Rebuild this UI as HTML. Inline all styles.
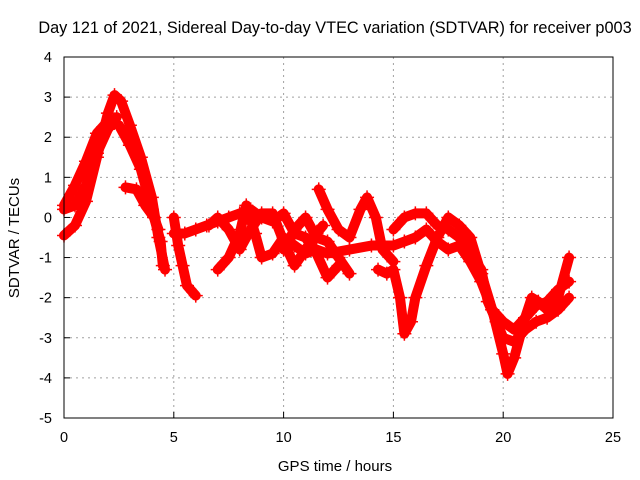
<!DOCTYPE html>
<html><head><meta charset="utf-8"><style>
body{margin:0;background:#fff}
svg{display:block;font-family:"Liberation Sans",sans-serif}
</style></head><body>
<svg id="chart" width="640" height="480">
<text x="335" y="33" text-anchor="middle" font-size="16.3">Day 121 of 2021, Sidereal Day-to-day VTEC variation (SDTVAR) for receiver p003</text>
<text x="335" y="471" text-anchor="middle" font-size="15">GPS time / hours</text>
<text transform="translate(19,238) rotate(-90)" text-anchor="middle" font-size="15">SDTVAR / TECUs</text>
<g id="grid"></g><g id="marks"></g>
<rect x="64" y="57" width="549" height="361" fill="none" stroke="#000" stroke-width="1"/>
</svg>
<script>
const xTicks=[0,5,10,15,20,25];
const yTicks=[4,3,2,1,0,-1,-2,-3,-4,-5];
const s1=[[0,-0.45],[0.5,-0.2],[1,0.4],[1.5,1.5],[2,2.6],[2.3,3.05],[2.6,2.9],[3,2.3],[3.5,1.5],[4,0.5],[4.3,-0.5],[4.6,-1.3]];
const s2=[[0,0.3],[0.5,0.8],[1,1.4],[1.5,2.1],[2,2.4],[2.5,2.3],[3,1.8],[3.5,1.2],[4,0.2],[4.4,-0.6],[4.5,-1.2]];
const s3=[[0,0.2],[0.5,0.3],[1,0.8],[1.5,1.6],[2,2.2],[2.4,2.5]];
const s4=[[2.8,0.75],[3.3,0.7],[3.7,0.3],[4.1,0.0],[4.3,-0.3]];
const s5=[[5,0.0],[5.2,-0.7],[5.4,-1.2],[5.6,-1.7],[6,-1.95]];
const s6=[[5,-0.4],[5.5,-0.4],[6,-0.3],[6.5,-0.2],[7,-0.1],[7.5,0],[8,0.1],[8.5,0.2],[9,0],[9.5,-0.1],[10,0.1],[10.5,-0.4],[11,-0.5],[11.5,-0.9],[12,-1.5],[12.5,-1.2]];
const s7=[[7,-1.3],[7.5,-1.0],[8,-0.4],[8.3,0.3],[8.7,-0.4],[9,-1.0],[9.5,-0.9],[10,-0.5],[10.5,-0.7],[11,-0.9],[11.5,-0.8],[12,-0.9],[13,-0.8],[14,-0.7],[15,-0.7],[15.5,-0.6],[16,-0.5],[16.5,-0.3],[17,-0.6],[17.5,-0.8],[18,-0.7],[18.5,-1.1],[19,-1.6],[19.5,-2.3],[20,-2.6],[20.5,-2.8],[21,-2.5],[21.5,-2.2],[22,-2.1],[22.5,-1.8],[23,-1.6]];
const s8=[[11.6,0.7],[12,0.2],[12.5,-0.3],[13,-0.5],[13.5,0.2],[13.8,0.5],[14.2,0],[14.5,-0.8],[15,-1.1]];
const s9=[[14.3,-1.3],[14.7,-1.4],[15,-1.3],[15.3,-2.0],[15.5,-2.9],[15.8,-2.6],[16,-2],[16.5,-1.2],[17,-0.5],[17.5,0],[18,-0.2],[18.5,-0.5],[19,-1.4],[19.5,-2.3],[20,-3.4],[20.2,-3.9],[20.5,-3.5],[21,-2.5],[21.3,-2.0],[21.6,-2.1],[22,-2.3],[22.5,-2.0],[23,-1.0]];
const s10=[[10,-0.8],[10.5,-0.3],[11,0],[11.5,-0.5],[12,-0.6],[12.5,-1.0],[13,-1.4]];
const s11=[[15,-0.3],[15.5,0],[16,0.1],[16.5,0.1],[17,-0.2],[17.5,-0.3],[18,-0.5],[18.5,-0.9],[19,-1.3],[19.3,-2.1],[19.7,-2.6],[20,-3.0],[20.5,-3.1],[21,-2.8],[21.5,-2.6],[22,-2.5],[22.5,-2.3],[23,-2.0]];
const s12=[[6.6,-0.2],[7,0],[7.5,-0.3],[8,-0.8],[8.5,-0.3],[9,0.1],[9.5,0.1],[10,-0.6],[10.5,-1.2],[11,-0.8],[11.5,-0.4],[11.8,-0.2]];
const seriesList=[s1,s2,s3,s4,s5,s6,s7,s8,s9,s10,s11,s12];
const NS="http://www.w3.org/2000/svg";
function xs(h){return 64+h*(549/25);}
function ys(v){return 57+(4-v)*(361/9);}
const grid=document.getElementById('grid');
xTicks.forEach(t=>{
  const x=xs(t);
  if(t>0&&t<25){const l=document.createElementNS(NS,'line');
  
  
  l.setAttribute('x1',x);l.setAttribute('x2',x);l.setAttribute('y1',57);l.setAttribute('y2',418);
  l.setAttribute('stroke','#a0a0a0');l.setAttribute('stroke-dasharray','2,4');grid.appendChild(l);}
  const tk=document.createElementNS(NS,'line');
  
  
  tk.setAttribute('x1',x);tk.setAttribute('x2',x);tk.setAttribute('y1',418);tk.setAttribute('y2',412);tk.setAttribute('stroke','#000');grid.appendChild(tk);
  const tx=document.createElementNS(NS,'text');
  
  
  tx.setAttribute('x',x);tx.setAttribute('y',442);tx.setAttribute('text-anchor','middle');tx.setAttribute('font-size','14.5');tx.textContent=t;grid.appendChild(tx);
});
yTicks.forEach(t=>{
  const y=ys(t);
  if(t<4&&t>-5){const l=document.createElementNS(NS,'line');
  
  
  l.setAttribute('x1',64);l.setAttribute('x2',613);l.setAttribute('y1',y);l.setAttribute('y2',y);
  l.setAttribute('stroke','#a0a0a0');l.setAttribute('stroke-dasharray','2,4');grid.appendChild(l);}
  const tk=document.createElementNS(NS,'line');
  
  
  tk.setAttribute('x1',64);tk.setAttribute('x2',70);tk.setAttribute('y1',y);tk.setAttribute('y2',y);tk.setAttribute('stroke','#000');grid.appendChild(tk);
  const tx=document.createElementNS(NS,'text');
  
  
  tx.setAttribute('x',52);tx.setAttribute('y',y+5);tx.setAttribute('text-anchor','end');tx.setAttribute('font-size','14.5');tx.textContent=t;grid.appendChild(tx);
});
const marks=document.getElementById('marks');
seriesList.forEach((s,i)=>{
  const p=document.createElementNS(NS,'polyline');
  
  
  p.setAttribute('points',s.map(d=>xs(d[0])+','+ys(d[1])).join(' '));
  p.setAttribute('fill','none');p.setAttribute('stroke','#f00');p.setAttribute('stroke-width','10');p.setAttribute('stroke-linejoin','round');p.setAttribute('stroke-linecap','round');
  marks.appendChild(p);
  s.forEach(d=>{
    const m=document.createElementNS(NS,'path');
    
    
    const x=xs(d[0]),y=ys(d[1]);
    m.setAttribute('d','M'+(x-7)+','+y+'H'+(x+7)+'M'+x+','+(y-7)+'V'+(y+7));
    m.setAttribute('stroke','#f00');m.setAttribute('stroke-width','1.5');
    marks.appendChild(m);
  });
});
</script>
</body></html>
